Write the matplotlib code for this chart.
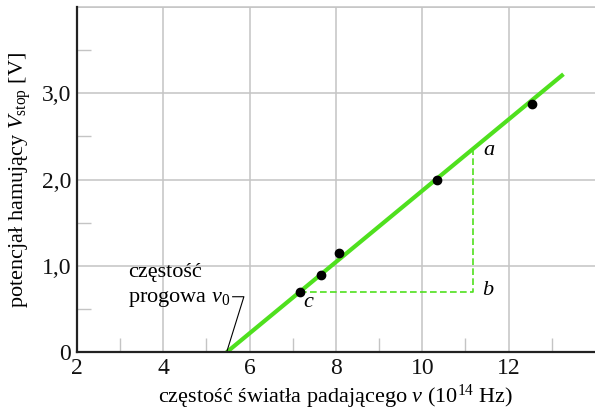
import matplotlib
matplotlib.use('Agg')
import matplotlib.pyplot as plt
from matplotlib.ticker import FixedLocator

plt.rcParams['font.family'] = ['Liberation Serif', 'DejaVu Serif']
plt.rcParams['mathtext.fontset'] = 'custom'
plt.rcParams['mathtext.rm'] = 'Liberation Serif'
plt.rcParams['mathtext.it'] = 'Liberation Serif:italic'

# measured points (frequency in 10^14 Hz, stopping voltage in V)
freq = [7.17, 7.66, 8.07, 10.35, 12.53]
v_stop = [0.70, 0.89, 1.15, 1.99, 2.87]

# fitted straight line
fit_x = [5.47, 13.27]
fit_y = [0.0, 3.22]

# slope triangle a-b-c
tri_x = [7.17, 11.18, 11.18]
tri_y = [0.70, 0.70, 2.36]

x_ticks = [2, 4, 6, 8, 10, 12]
y_ticks = [0, 1, 2, 3, 4]
y_labels = ['0', '1,0', '2,0', '3,0', '']

green = '#4fe01e'
grid_c = '#c4c4c4'

fig = plt.figure(figsize=(5.95, 4.12), dpi=100)
ax = fig.add_axes([0.129, 0.145, 0.871, 0.8385])
ax.set_xlim(2, 14)
ax.set_ylim(0, 4)

ax.xaxis.set_major_locator(FixedLocator(x_ticks))
ax.yaxis.set_major_locator(FixedLocator(y_ticks))
ax.set_yticklabels(y_labels)
ax.xaxis.set_minor_locator(FixedLocator([3, 5, 7, 9, 11, 13]))
ax.yaxis.set_minor_locator(FixedLocator([0.5, 1.5, 2.5, 3.5]))
ax.tick_params(which='major', length=0, labelsize=17, pad=4, colors='#111111')
ax.tick_params(which='minor', direction='in', length=10, width=1, color=grid_c)
ax.grid(True, which='major', color=grid_c, linewidth=1.1, zorder=0)
ax.axhline(4, color=grid_c, linewidth=1.1, clip_on=False, zorder=0)

ax.spines['top'].set_visible(False)
ax.spines['right'].set_visible(False)
for s in ['left', 'bottom']:
    ax.spines[s].set_color('#222222')
    ax.spines[s].set_linewidth(1.6)
    ax.spines[s].set_zorder(5)

# slope triangle
ax.plot(tri_x, tri_y, color=green, linewidth=1.2, dashes=(4, 2), zorder=2)
ax.plot(fit_x, fit_y, color=green, linewidth=3, solid_capstyle='butt', zorder=3)
ax.plot(freq, v_stop, 'o', color='black', markersize=6, zorder=4)

ax.text(11.42, 2.34, 'a', fontsize=16, style='italic', ha='left', va='center')
ax.text(11.38, 0.71, 'b', fontsize=16, style='italic', ha='left', va='center')
ax.text(7.25, 0.58, 'c', fontsize=16, style='italic', ha='left', va='center')

# threshold frequency annotation
ax.text(3.19, 0.92, 'częstość', fontsize=16, ha='left', va='center')
ax.text(3.19, 0.62, r'progowa $\nu_0$', fontsize=16, ha='left', va='center')
ax.plot([5.61, 5.87, 5.47], [0.643, 0.643, 0.0], color='black', linewidth=0.8, zorder=3)

ax.set_xlabel(r'częstość światła padającego $\nu$ (10$^{14}$ Hz)', fontsize=16, labelpad=3)
ax.set_ylabel(r'potencjał hamujący $V_{\mathrm{stop}}$ [V]', fontsize=16, labelpad=6)

fig.savefig('out.png', dpi=100)
